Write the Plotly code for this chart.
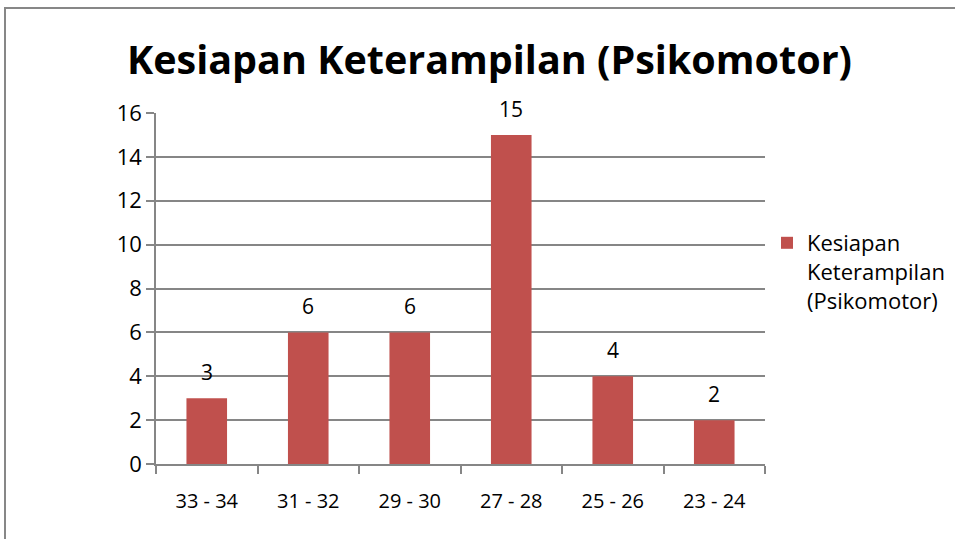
import plotly.graph_objects as go

categories = ["33 - 34", "31 - 32", "29 - 30", "27 - 28", "25 - 26", "23 - 24"]
values = [3, 6, 6, 15, 4, 2]
series_name = "Kesiapan<br>Keterampilan<br>(Psikomotor)"
title_text = "Kesiapan Keterampilan (Psikomotor)"
y_ticks = [0, 2, 4, 6, 8, 10, 12, 14, 16]

FONT = "Open Sans, Noto Sans, Liberation Sans, sans-serif"
W, H = 955, 539
L, R, T, B = 156, 190, 113, 75
pw, ph = W - L - R, H - T - B
GRID = "#868686"

fig = go.Figure()
fig.add_trace(go.Bar(
    x=categories, y=values, name=series_name,
    marker=dict(color="#C0504D", line=dict(width=0)),
    width=0.4,
))

for c, v in zip(categories, values):
    fig.add_annotation(x=c, y=v, text=str(v), showarrow=False,
                       yanchor="middle", yshift=26,
                       font=dict(size=21, family=FONT, color="#000000"))

def px2x(p):
    return (p - L) / pw

def px2y(p):
    return (H - B - p) / ph

fig.add_shape(type="rect", xref="paper", yref="paper",
              x0=px2x(5), x1=px2x(965), y0=px2y(550), y1=px2y(8),
              line=dict(color="#878787", width=2), fillcolor="rgba(0,0,0,0)", layer="below")

fig.update_layout(
    width=W, height=H,
    margin=dict(l=L, r=R, t=T, b=B, pad=0, autoexpand=False),
    paper_bgcolor="white", plot_bgcolor="white",
    title=dict(text="<b>" + title_text + "</b>", x=489.5 / W, xanchor="center",
               y=1 - 60 / H, yanchor="middle",
               font=dict(size=39.5, family=FONT, color="#000000")),
    font=dict(family=FONT, color="#000000"),
    showlegend=True,
    legend=dict(x=px2x(767), xanchor="left", y=px2y(222), yanchor="top",
                font=dict(size=22, family=FONT, color="#000000"),
                valign="top", itemwidth=30, tracegroupgap=0,
                bgcolor="rgba(0,0,0,0)"),
    xaxis=dict(showline=True, linecolor=GRID, linewidth=1.5,
               ticks="outside", ticklen=8, tickcolor=GRID, tickwidth=1.5,
               tickson="boundaries", tickfont=dict(size=20, family=FONT),
               showgrid=False, ticklabelstandoff=18),
    yaxis=dict(range=[0, 16], tickvals=y_ticks, showline=True, linecolor=GRID, linewidth=1.5,
               ticks="outside", ticklen=8, tickcolor=GRID, tickwidth=1.5,
               gridcolor=GRID, gridwidth=1.5, zeroline=False,
               tickfont=dict(size=22, family=FONT)),
)

fig.write_html("out.html", config={"displayModeBar": False},
               post_script="document.body.style.margin='0';document.body.style.overflow='hidden';")
